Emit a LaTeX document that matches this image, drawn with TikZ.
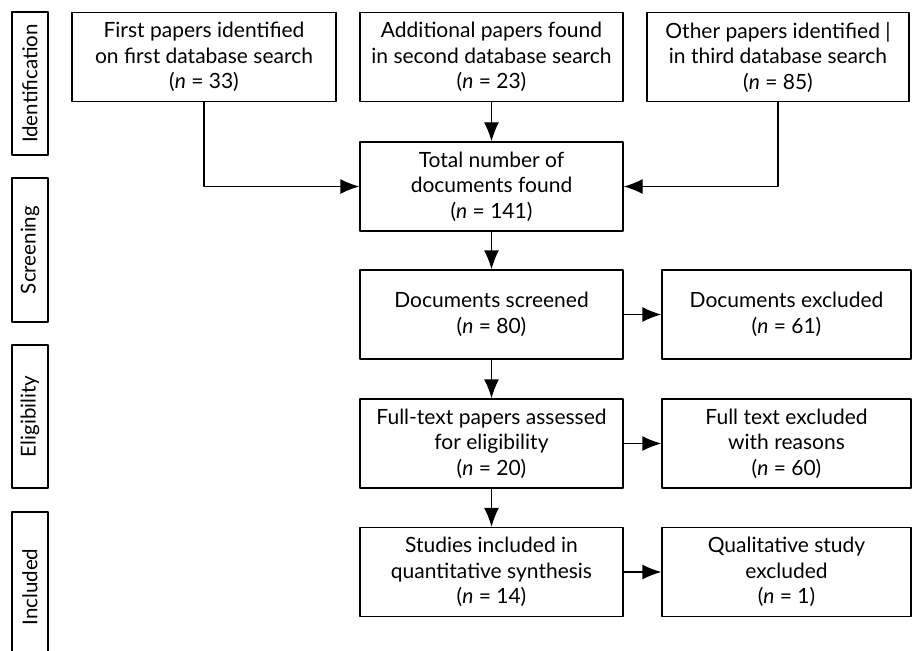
\documentclass[tikz,border=0pt]{standalone}
\usepackage{fontspec}
\setmainfont{Lato}
\usetikzlibrary{arrows.meta}
\tikzset{flowbox/.style={draw, line width=1.3pt, align=center, inner sep=0pt, minimum width=263pt, minimum height=89pt, font=\fontsize{21}{25.5}\selectfont}}
\tikzset{stagebox/.style={draw, line width=1.3pt, rotate=90, inner sep=0pt, minimum height=36pt, font=\fontsize{20.5}{22}\selectfont}}
\tikzset{link/.style={line width=1.3pt, -{Latex[length=19pt,width=15pt]}}}
\newcommand{\nval}[1]{(\textit{n} = #1)}

\begin{document}
\begin{tikzpicture}[x=1pt, y=-1pt, line join=round]
	\useasboundingbox (0,0) rectangle (912,650);

	% Stages
	\node[stagebox, minimum width=143pt] (ident) at (30,83.5) {Identification};
	\node[stagebox, minimum width=144pt] (screen) at (30,250) {Screening};
	\node[stagebox, minimum width=143pt] (elig) at (30,416.5) {Eligibility};
	\node[stagebox, minimum width=150pt] (incl) at (30,587) {Included};

	% Database searches
	\node[flowbox, minimum width=264pt] (first) at (204,57) {First papers identified\\on first database search\\\nval{33}};
	\node[flowbox] (second) at (491.5,57) {Additional papers found\\in second database search\\\nval{23}};
	\node[flowbox, minimum width=262pt] (third) at (778,57) {Other papers identified |\\in third database search\\\nval{85}};

	% Main column
	\node[flowbox] (total) at (491.5,186.5) {Total number of\\documents found\\\nval{141}};
	\node[flowbox] (screened) at (491.5,314.5) {Documents screened\\\nval{80}};
	\node[flowbox] (fulltext) at (491.5,443.5) {Full-text papers assessed\\for eligibility\\\nval{20}};
	\node[flowbox] (studies) at (491.5,572) {Studies included in\\quantitative synthesis\\\nval{14}};

	% Exclusions
	\node[flowbox, minimum width=249pt] (docexcl) at (786.5,314.5) {Documents excluded\\\nval{61}};
	\node[flowbox, minimum width=249pt] (ftexcl) at (786.5,443.5) {Full text excluded\\with reasons\\\nval{60}};
	\node[flowbox, minimum width=249pt] (qualexcl) at (786.5,572) {Qualitative study\\excluded\\\nval{1}};

	% Connectors
	\draw[link] (first.south) |- (total.west);
	\draw[link] (third.south) |- (total.east);
	\draw[link] (second) -- (total);
	\draw[link] (total) -- (screened);
	\draw[link] (screened) -- (fulltext);
	\draw[link] (fulltext) -- (studies);
	\draw[link] (screened) -- (docexcl);
	\draw[link] (fulltext) -- (ftexcl);
	\draw[link] (studies) -- (qualexcl);
\end{tikzpicture}
\end{document}
